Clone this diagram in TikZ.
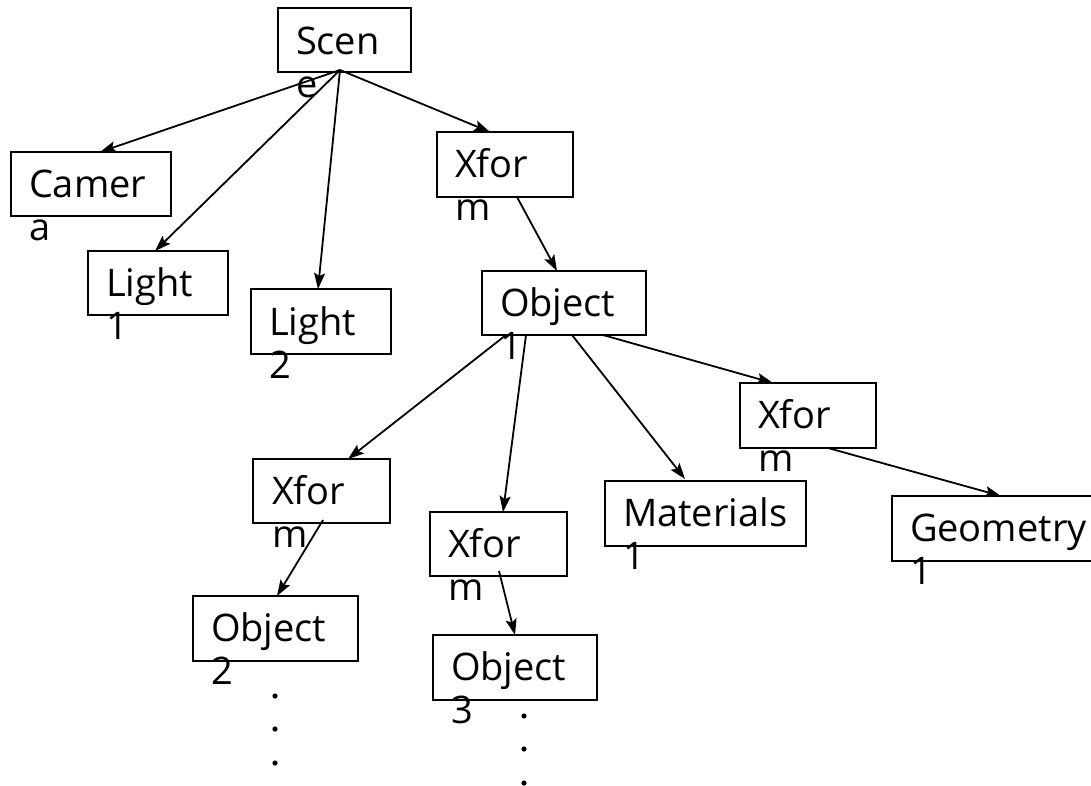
\documentclass[tikz,border=0pt]{standalone}
\usepackage{fontspec}
\setmainfont{Open Sans}
\usetikzlibrary{arrows.meta}
\begin{document}
\begin{tikzpicture}[x=1pt,y=-1pt,
  box/.style={draw=black, line width=2pt, inner sep=0pt, outer sep=0pt, anchor=north west},
  lbl/.style={inner sep=0pt, outer sep=0pt, anchor=base west, font=\fontsize{38}{43}\selectfont},
  conn/.style={line width=1.8pt, -{Stealth[length=16pt,width=11pt,inset=3pt]}},
  dotmark/.style={fill=black}]
\useasboundingbox (0,0) rectangle (1091,785);
% boxes
\node[box, minimum width=133pt, minimum height=64pt] (scene) at (278,8) {};
\node[box, minimum width=160pt, minimum height=64pt] (camera) at (11,152) {};
\node[box, minimum width=140pt, minimum height=64pt] (light1) at (88,251) {};
\node[box, minimum width=140pt, minimum height=65pt] (light2) at (251,289) {};
\node[box, minimum width=136pt, minimum height=65pt] (xformT) at (437,132) {};
\node[box, minimum width=164pt, minimum height=64pt] (object1) at (482,271) {};
\node[box, minimum width=136pt, minimum height=65pt] (xformR) at (740,383) {};
\node[box, minimum width=201pt, minimum height=65pt] (materials) at (605,481) {};
\node[box, minimum width=200pt, minimum height=65pt] (geometry) at (892,496) {};
\node[box, minimum width=137pt, minimum height=64pt] (xformL) at (253,459) {};
\node[box, minimum width=165pt, minimum height=65pt] (object2) at (193,596) {};
\node[box, minimum width=137pt, minimum height=64pt] (xformM) at (430,512) {};
\node[box, minimum width=164pt, minimum height=65pt] (object3) at (433,635) {};
% labels
\node[lbl] (tscene) at (296,54) {\parbox[t]{6cm}{Scen\\e}};
\node[lbl] (tcamera) at (29,197) {\parbox[t]{6cm}{Camer\\a}};
\node[lbl] (tlight1) at (106,296) {\parbox[t]{6cm}{Light\\1}};
\node[lbl] (tlight2) at (269,335) {\parbox[t]{6cm}{Light\\2}};
\node[lbl] (txformT) at (455,177) {\parbox[t]{6cm}{Xfor\\m}};
\node[lbl] (tobject1) at (500,316) {\parbox[t]{6cm}{Object\\1}};
\node[lbl] (txformR) at (758,428) {\parbox[t]{6cm}{Xfor\\m}};
\node[lbl] (tmaterials) at (623,526) {\parbox[t]{6cm}{Materials\\1}};
\node[lbl] (tgeometry) at (910,541) {\parbox[t]{6cm}{Geometry\\1}};
\node[lbl] (txformL) at (272,504) {\parbox[t]{6cm}{Xfor\\m}};
\node[lbl] (tobject2) at (211,641) {\parbox[t]{6cm}{Object\\2}};
\node[lbl] (txformM) at (448,557) {\parbox[t]{6cm}{Xfor\\m}};
\node[lbl] (tobject3) at (451,680) {\parbox[t]{6cm}{Object\\3}};
% connectors
\draw[conn] ([xshift=-4.5pt,yshift=2pt]scene.south) -- ([xshift=9pt]camera.north);
\draw[conn] ([xshift=-4.5pt,yshift=2pt]scene.south) -- ([xshift=-3pt]light1.north);
\draw[conn] ([xshift=-4.5pt,yshift=2pt]scene.south) -- ([xshift=-3pt]light2.north);
\draw[conn] ([xshift=-4.5pt,yshift=2pt]scene.south) -- ([xshift=-15pt]xformT.north);
\draw[conn] ([xshift=12pt]xformT.south) -- ([xshift=-7pt]object1.north);
\draw[conn] ([xshift=-58pt]object1.south) -- ([xshift=26.5pt]xformL.north);
\draw[conn] ([xshift=-38pt]object1.south) -- ([xshift=4.5pt]xformM.north);
\draw[conn] ([xshift=8pt]object1.south) -- ([xshift=-20.5pt,yshift=2pt]materials.north);
\draw[conn] ([xshift=39pt]object1.south) -- ([xshift=-35pt]xformR.north);
\draw[conn] ([xshift=1.5pt,yshift=3pt]xformL.south) -- ([xshift=1.5pt]object2.north);
\draw[conn] ([xshift=0.5pt,yshift=5pt]xformM.south) -- (object3.north);
\draw[conn] ([xshift=20pt]xformR.south) -- ([xshift=9pt]geometry.north);
% dots
\fill[dotmark] (275,696) circle (2.6pt) (275,729) circle (2.6pt) (275,763) circle (2.6pt);
\fill[dotmark] (524,716) circle (2.6pt) (524,749) circle (2.6pt) (524,783) circle (2.6pt);
\end{tikzpicture}
\end{document}
